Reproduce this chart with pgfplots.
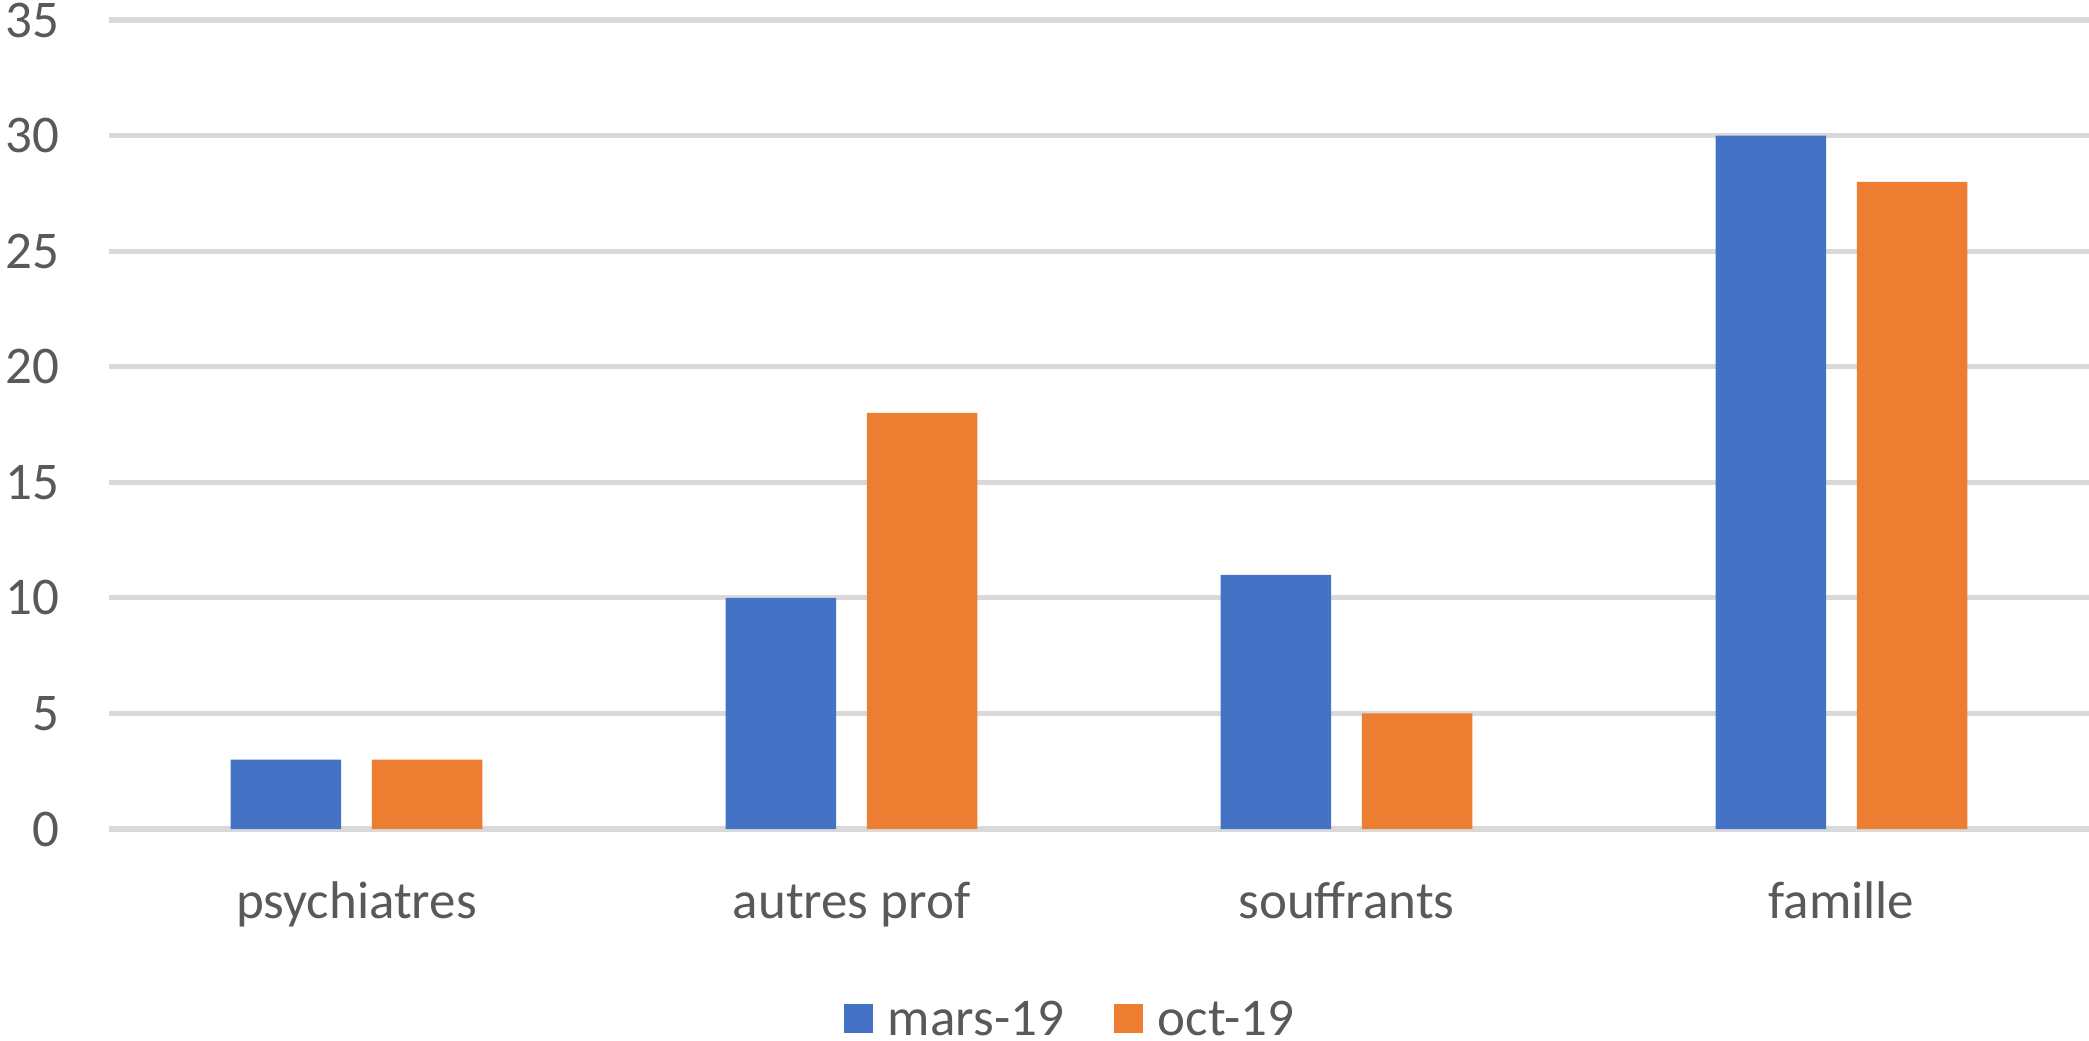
\documentclass[border=0pt]{standalone}
\usepackage{pgfplots}
\pgfplotsset{compat=1.18}
\usepackage{fontspec}
\setmainfont{Carlito}
\definecolor{cblue}{HTML}{4472C4}
\definecolor{corange}{HTML}{ED7D31}
\definecolor{ctext}{HTML}{595959}
\definecolor{cgrid}{HTML}{D9D9D9}
\begin{document}
\begin{tikzpicture}
\begin{axis}[
  name=ax,
  scale only axis,
  width=990bp, height=404.5bp,
  xmin=-0.5, xmax=3.5,
  ymin=0, ymax=35,
  xtick={0,1,2,3},
  xticklabels={psychiatres,autres prof,souffrants,famille},
  ytick={0,5,...,35},
  axis line style={draw=none},
  major tick length=0pt,
  ymajorgrids,
  grid style={cgrid, line width=2.6bp},
  /pgf/number format/assume math mode=true,
  ticklabel style={font=\fontsize{26.5bp}{32bp}\selectfont, text=ctext},
  yticklabel style={anchor=east, inner sep=0pt, xshift=-24.5bp},
  xticklabel style={anchor=base, inner sep=0pt, yshift=-44.5bp},
  legend columns=2,
  legend style={draw=none, fill=none, inner sep=0pt, outer sep=0pt,
    at={(axis description cs:0.3712,-0.213)}, anchor=north west,
    font=\fontsize{26.5bp}{32bp}\selectfont, text=ctext,
    nodes={inner sep=0pt, text depth=0pt},
    column sep=0pt,
    /tikz/every even column/.append style={column sep=25bp}},
  legend image code/.code={\fill[#1] (0bp,-7.25bp) rectangle (14.5bp,7.25bp); \path (22bp,0bp);},
]
\addplot[fill=cblue, draw=none, ybar, bar width=55.25bp, bar shift=-35.3bp]
  coordinates {(0,3) (1,10) (2,11) (3,30)};
\addlegendentry{mars-19}
\addplot[fill=corange, draw=none, ybar, bar width=55.25bp, bar shift=35.3bp]
  coordinates {(0,3) (1,18) (2,5) (3,28)};
\addlegendentry{oct-19}
\end{axis}
\pgfresetboundingbox
\path[use as bounding box] ([shift={(-54.5bp,-105.5bp)}]ax.south west) rectangle ([shift={(0bp,10bp)}]ax.north east);
\end{tikzpicture}
\end{document}
